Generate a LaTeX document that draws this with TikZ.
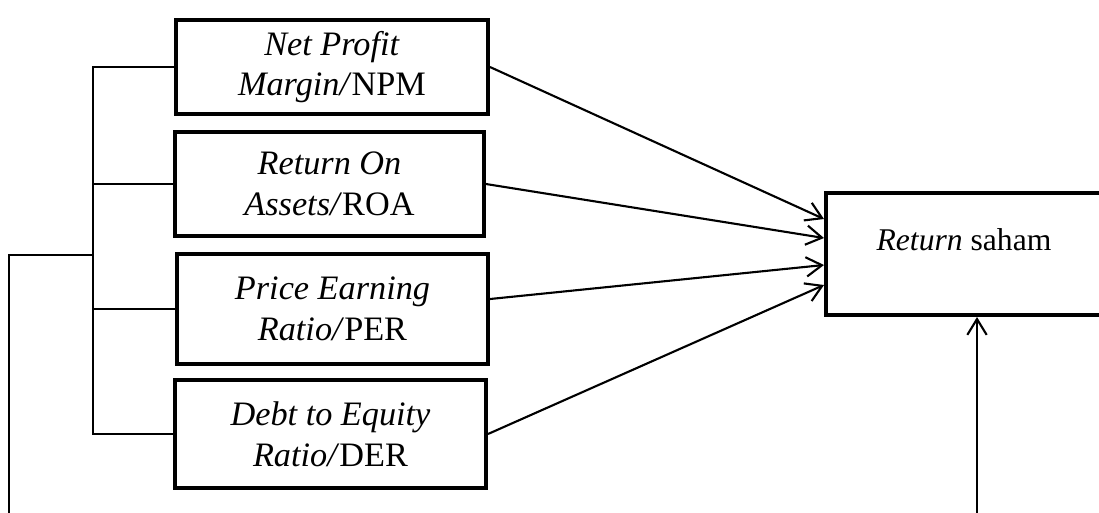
\documentclass[tikz,border=0pt]{standalone}
\usepackage{fontspec}
\setmainfont{Liberation Serif}
\usepackage{tikz}
\usetikzlibrary{arrows.meta}

\begin{document}
\begin{tikzpicture}[x=0.02cm, y=-0.02cm,
    var/.style={draw, line width=2.3pt, align=center, inner sep=0pt,
                font={\fontsize{19.5pt}{23.2pt}\selectfont}},
    link/.style={line width=1.1pt},
    arr/.style={line width=1.2pt, -{Straight Barb[length=9pt,width=11pt]}}]
  \useasboundingbox (0,0) rectangle (1099,512);
  \clip (0,0) rectangle (1099,512);

  % independent variables
  \node[var, minimum width=6.24cm, minimum height=1.88cm] (npm) at (332,67)
    {\textit{Net Profit}\\\textit{Margin/}NPM};
  \node[var, minimum width=6.18cm, minimum height=2.08cm] (roa) at (329.5,184)
    {\textit{Return On}\\\textit{Assets/}ROA};
  \node[var, minimum width=6.22cm, minimum height=2.2cm] (per) at (332.5,309)
    {\textit{Price Earning}\\\textit{Ratio/}PER};
  \node[var, minimum width=6.22cm, minimum height=2.16cm] (der) at (330.5,434)
    {\textit{Debt to Equity}\\\textit{Ratio/}DER};

  % dependent variable
  \node[var, minimum width=5.52cm, minimum height=2.44cm,
        font={\fontsize{18pt}{22pt}\selectfont},
        text height=0.42cm, text depth=0.58cm] (saham) at (964,254)
    {\textit{Return} saham};

  % bracket on the left
  \coordinate (trunk) at (93,0);
  \coordinate (fork) at (93,255);
  \coordinate (far) at (9,530);
  \draw[link] (npm.west) -- (npm.west -| trunk) -- (der.west -| trunk) -- (der.west);
  \draw[link] (roa.west) -- (roa.west -| trunk);
  \draw[link] (per.west) -- (per.west -| trunk);
  \draw[link] (fork) -| (far);

  % partial effects
  \draw[arr] (npm.east) -- ([yshift=0.7cm]saham.west);
  \draw[arr] (roa.east) -- ([yshift=0.32cm]saham.west);
  \draw[arr] ([yshift=0.2cm]per.east) -- ([yshift=-0.22cm]saham.west);
  \draw[arr] (der.east) -- ([yshift=-0.62cm]saham.west);

  % simultaneous effect
  \coordinate (base) at (977,530);
  \draw[arr] (base) -- (base |- saham.south);
\end{tikzpicture}
\end{document}
